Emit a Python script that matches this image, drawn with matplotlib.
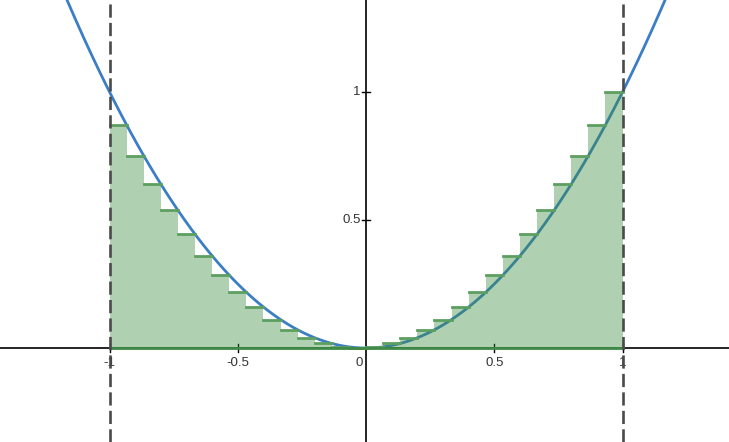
import numpy as np
import matplotlib.pyplot as plt

# data: right Riemann sum of y = x^2 on [-1, 1]
a, b = -1.0, 1.0
n_rect = 30
x_ticks = [-1, -0.5, 0.5, 1]
x_tick_labels = ["-1", "-0.5", "0.5", "1"]
y_ticks = [0.5, 1]
y_tick_labels = ["0.5", "1"]


def f(x):
    return x ** 2


fig = plt.figure(figsize=(7.29, 4.42), dpi=100)
ax = fig.add_axes([0, 0, 1, 1])
ax.set_xlim(-1.427, 1.415)
ax.set_ylim(-0.367, 1.359)
ax.axis("off")

# axes
ax.axhline(0, color="black", lw=1.2, zorder=1)
ax.axvline(0, color="black", lw=1.2, zorder=1)
for t, lab in zip(x_ticks, x_tick_labels):
    ax.plot([t, t], [-0.016, 0.016], color="black", lw=1, zorder=1)
    ax.text(t, -0.035, lab, ha="center", va="top", fontsize=9.5,
            family="Liberation Sans", color="#333333", zorder=1)
ax.text(-0.014, -0.035, "0", ha="right", va="top", fontsize=9.5,
        family="Liberation Sans", color="#333333")
for t, lab in zip(y_ticks, y_tick_labels):
    ax.plot([-0.016, 0.016], [t, t], color="black", lw=1, zorder=1)
    ax.text(-0.02, t, lab, ha="right", va="center", fontsize=9.5,
            family="Liberation Sans", color="#333333")

# curve
xs = np.linspace(-1.5, 1.5, 600)
ax.plot(xs, f(xs), color="#3b7ec6", lw=2, zorder=2)

# rectangles
dx = (b - a) / n_rect
lefts = a + dx * np.arange(n_rect)
heights = f(lefts + dx)
ax.bar(lefts, heights, width=dx, align="edge", color="#388c3c",
       alpha=0.4, lw=0, zorder=3)
for x0, h in zip(lefts, heights):
    ax.plot([x0, x0 + dx], [h, h], color="#5c9f60", lw=2, zorder=4)
ax.plot([a, b], [0, 0], color="#3f8a46", lw=2, zorder=4)

# bounds
for xb in (a, b):
    ax.axvline(xb, color="#4a4a4a", lw=1.9, ls=(0, (5, 2)), zorder=5)

fig.savefig("out.png", dpi=100)
